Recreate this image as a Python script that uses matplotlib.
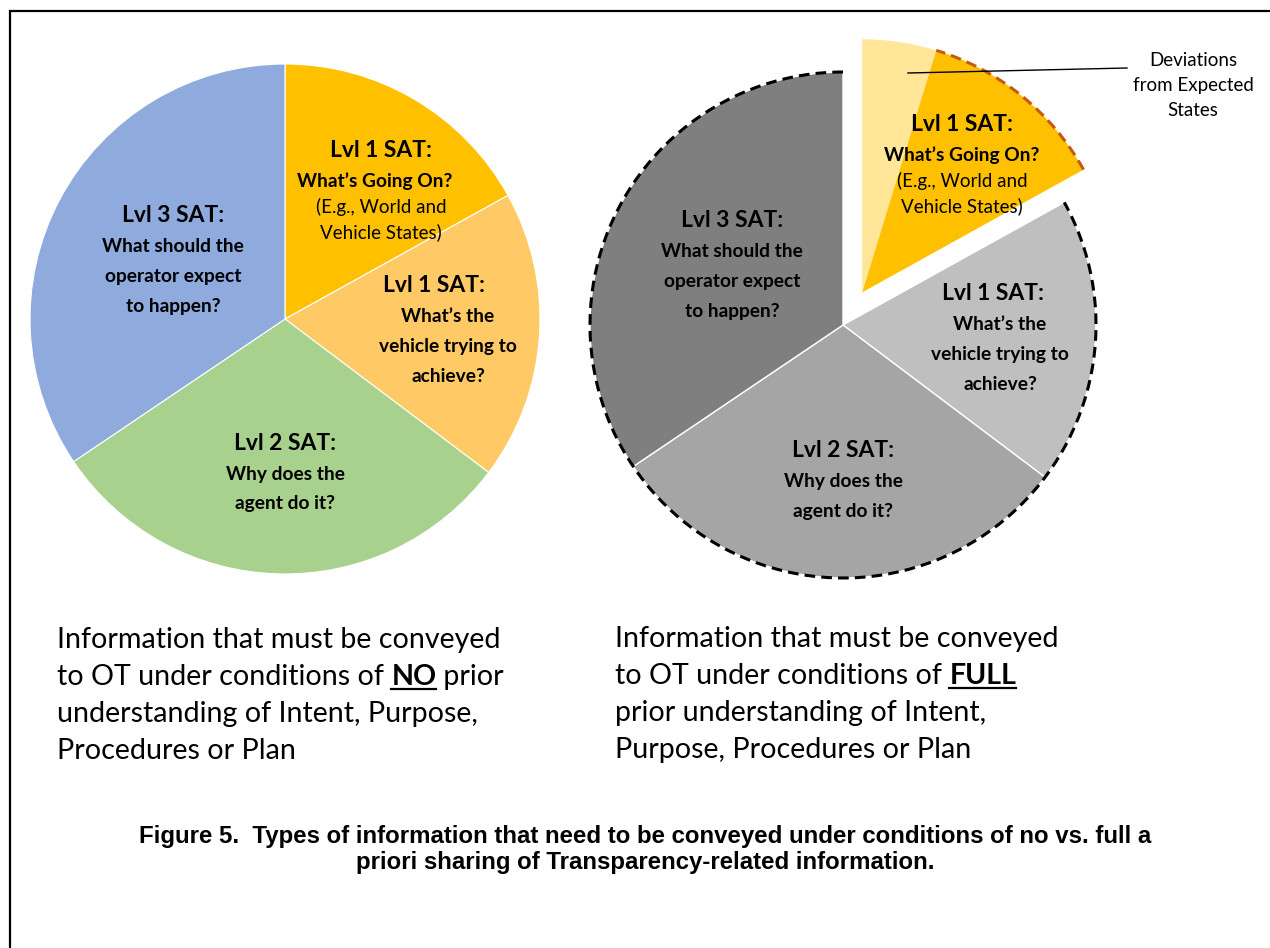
import matplotlib
matplotlib.use('Agg')
import matplotlib.pyplot as plt
from matplotlib.patches import Arc
import numpy as np

# 数据 (扇区角度, 顺时针从12点开始)
left_sizes = [61, 66, 109, 124]
left_colors = ['#FFC000', '#FFCA65', '#A9D18E', '#8FAADC']
right_sizes = [17, 44, 66, 109, 124]
right_colors = ['#FFE699', '#FFC000', '#BFBFBF', '#A5A5A5', '#7F7F7F']

titles = ['Lvl 1 SAT:', 'Lvl 1 SAT:', 'Lvl 2 SAT:', 'Lvl 3 SAT:']
questions = [['What’s Going On?'],
             ['What’s the', 'vehicle trying to', 'achieve?'],
             ['Why does the', 'agent do it?'],
             ['What should the', 'operator expect', 'to happen?']]
examples = ['(E.g., World and', 'Vehicle States)']
deviation_text = ['Deviations', 'from Expected', 'States']

caption_no = ['Information that must be conveyed',
              ('to OT under conditions of ', 'NO', ' prior'),
              'understanding of Intent, Purpose,',
              'Procedures or Plan']
caption_full = ['Information that must be conveyed',
                ('to OT under conditions of ', 'FULL', ''),
                'prior understanding of Intent,',
                'Purpose, Procedures or Plan']
fig_caption = ['Figure 5.  Types of information that need to be conveyed under conditions of no vs. full a',
               'priori sharing of Transparency-related information.']

W, H = 1270, 948
FONT = 'Lato'

fig = plt.figure(figsize=(W / 100, H / 100), dpi=100)
ax = fig.add_axes([0, 0, 1, 1])

# 左饼图
ax.pie(left_sizes, colors=left_colors, startangle=90, counterclock=False,
       center=(285, H - 319), radius=255,
       wedgeprops=dict(linewidth=0.8, edgecolor='white'))

# 右饼图, 黄色两块整体移出
rc = (843, H - 325)
rr = 253
wedges, _ = ax.pie(right_sizes, colors=right_colors, startangle=90, counterclock=False,
                   center=rc, radius=rr,
                   wedgeprops=dict(linewidth=1.0, edgecolor='white'))
mid = np.deg2rad(90 - (right_sizes[0] + right_sizes[1]) / 2)
off = 0.15 * rr
ec = (rc[0] + off * np.cos(mid), rc[1] + off * np.sin(mid))
for w in wedges[:2]:
    w.set_center(ec)
    w.set_edgecolor('none')

# 虚线外框
yellow_end = 90 - right_sizes[0] - right_sizes[1]
ax.add_patch(Arc(rc, 2 * rr, 2 * rr, theta1=90, theta2=360 + yellow_end,
                 color='black', lw=2.2, linestyle=(0, (3.5, 2))))
ax.add_patch(Arc(ec, 2 * rr, 2 * rr, theta1=yellow_end, theta2=90 - right_sizes[0],
                 color='#C55A11', lw=2.2, linestyle=(0, (3.5, 2))))

ax.set_xlim(0, W)
ax.set_ylim(0, H)
ax.set_aspect('equal')
ax.axis('off')

# 外框线
ax.plot([10, 10, W], [0, H - 11, H - 11], color='black', lw=1.6, solid_joinstyle='miter')


def put_lines(x, y, lines, step, **kw):
    for i, s in enumerate(lines):
        ax.text(x, H - (y + i * step), s, ha='center', va='center', family=FONT, **kw)


def sat_label(x, y, k, qx=None, ex=False):
    qx = x if qx is None else qx
    put_lines(x, y, [titles[k]], 0, fontsize=16.5, fontweight='bold')
    put_lines(qx, y + 31, questions[k], 30, fontsize=13.8, fontweight='bold')
    if ex:
        put_lines(x, y + 57, examples, 25, fontsize=13.5)


# 左图标签
sat_label(381, 150, 0, qx=375, ex=True)
sat_label(434, 285, 1, qx=448)
sat_label(285, 443, 2)
sat_label(173, 215, 3)

# 右图标签
sat_label(962, 124, 0, ex=True)
sat_label(993, 293, 1, qx=1000)
sat_label(843, 450, 2)
sat_label(732, 220, 3)

# Deviations 引线
ax.plot([908, 1127], [H - 73, H - 68], color='black', lw=1.0)
put_lines(1193, 60, deviation_text, 25, fontsize=13.5)

# 下方说明文字
renderer = fig.canvas.get_renderer()


def caption(x, y0, lines):
    fs = 20.6
    for i, line in enumerate(lines):
        y = H - (y0 + i * 37)
        if isinstance(line, tuple):
            a, b, c = line
            t = ax.text(x, y, a, family=FONT, fontsize=fs, va='baseline')
            x1 = t.get_window_extent(renderer).x1
            tb = ax.text(x1, y, b, family=FONT, fontsize=fs, fontweight='bold', va='baseline')
            bb = tb.get_window_extent(renderer)
            ax.plot([bb.x0, bb.x1], [y - 4, y - 4], color='black', lw=1.6)
            if c:
                ax.text(bb.x1, y, c, family=FONT, fontsize=fs, va='baseline')
        else:
            ax.text(x, y, line, family=FONT, fontsize=fs, va='baseline')


caption(57, 648, caption_no)
caption(615, 647, caption_full)

for i, s in enumerate(fig_caption):
    ax.text(645, H - (836 + i * 26), s, ha='center', va='center',
            family='Liberation Sans', fontweight='bold', fontsize=17.3)

fig.savefig('out.png', dpi=100)
